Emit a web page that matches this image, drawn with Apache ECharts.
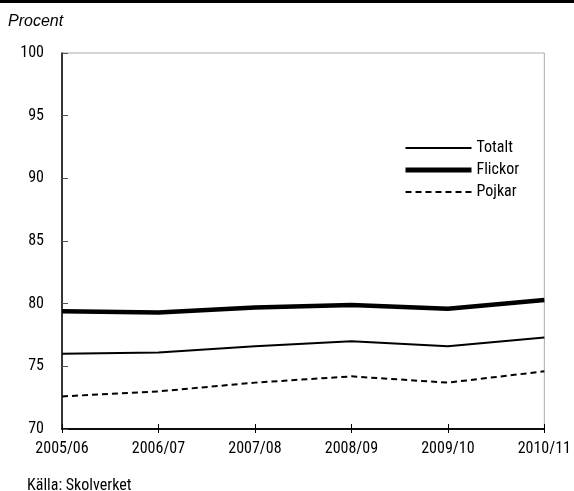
<!DOCTYPE html>
<html><head><meta charset="utf-8">
<script src="https://cdn.jsdelivr.net/npm/echarts@6/dist/echarts.min.js"></script>
<style>html,body{margin:0;padding:0;background:#fff}#c{width:574px;height:491px}</style>
</head><body><div id="c"></div>
<script>
const categories = ['2005/06','2006/07','2007/08','2008/09','2009/10','2010/11'];
const totalt = [76.0, 76.1, 76.6, 77.0, 76.6, 77.3];
const flickor = [79.4, 79.3, 79.7, 79.9, 79.6, 80.3];
const pojkar = [72.6, 73.0, 73.7, 74.2, 73.7, 74.6];
const yTicks = { min: 70, max: 100, interval: 5 };

const FONT = '"Liberation Sans Narrow", "Roboto Condensed", "DejaVu Sans Condensed", sans-serif';
const chart = echarts.init(document.getElementById('c'), null, {renderer: 'canvas'});
const xBase = {
  type: 'category', data: categories, boundaryGap: false,
  axisLine: {lineStyle: {color: '#000', width: 1.5}},
  splitLine: {show: false}
};
chart.setOption({
  animation: false,
  backgroundColor: '#fff',
  textStyle: {fontFamily: FONT},
  grid: {left: 62, right: 28, top: 53, bottom: 62, show: true, borderColor: '#aaa', borderWidth: 1, backgroundColor: 'transparent'},
  graphic: [
    {type: 'rect', left: 0, top: 0, shape: {width: 574, height: 3}, style: {fill: '#000'}},
    {type: 'text', left: 8, top: 14, style: {text: 'Procent', fontStyle: 'italic', fontSize: 16, fontFamily: '"Liberation Sans", Arial, sans-serif', fill: '#000'}},
    {type: 'text', left: 27, top: 478, style: {text: 'Källa: Skolverket', fontSize: 16, fontFamily: FONT, fill: '#000'}}
  ],
  legend: {
    orient: 'vertical', left: 403, top: 140, itemWidth: 66, itemHeight: 14, itemGap: 6, padding: 0,
    textStyle: {fontSize: 16, color: '#000', fontFamily: FONT},
    itemStyle: {opacity: 0},
    data: [
      {name: 'Totalt', lineStyle: {width: 2}, itemStyle: {opacity: 0}},
      {name: 'Flickor', lineStyle: {width: 5}, itemStyle: {opacity: 0}},
      {name: 'Pojkar', lineStyle: {width: 2}, itemStyle: {opacity: 0}}
    ]
  },
  xAxis: [
    Object.assign({}, xBase, {
      axisTick: {show: true, inside: false, length: 4, lineStyle: {color: '#000'}},
      axisLabel: {fontSize: 16, color: '#000', margin: 12, fontFamily: FONT}
    }),
    Object.assign({}, xBase, {
      position: 'bottom',
      axisTick: {show: true, inside: true, length: 5, lineStyle: {color: '#000'}},
      axisLabel: {show: false}
    })
  ],
  yAxis: {
    type: 'value', min: yTicks.min, max: yTicks.max, interval: yTicks.interval,
    axisLine: {show: true, lineStyle: {color: '#000', width: 1.5}},
    axisTick: {show: true, inside: true, length: 6, lineStyle: {color: '#555'}},
    axisLabel: {fontSize: 16, color: '#000', margin: 18, fontFamily: FONT},
    splitLine: {show: false}
  },
  series: [
    {name: 'Totalt', type: 'line', data: totalt, symbol: 'none', lineStyle: {color: '#000', width: 2}, itemStyle: {color: '#000'}},
    {name: 'Flickor', type: 'line', data: flickor, symbol: 'none', lineStyle: {color: '#000', width: 4.5}, itemStyle: {color: '#000'}},
    {name: 'Pojkar', type: 'line', data: pojkar, symbol: 'none', lineStyle: {color: '#000', width: 2, type: [6, 4]}, itemStyle: {color: '#000'}}
  ]
});
</script></body></html>
